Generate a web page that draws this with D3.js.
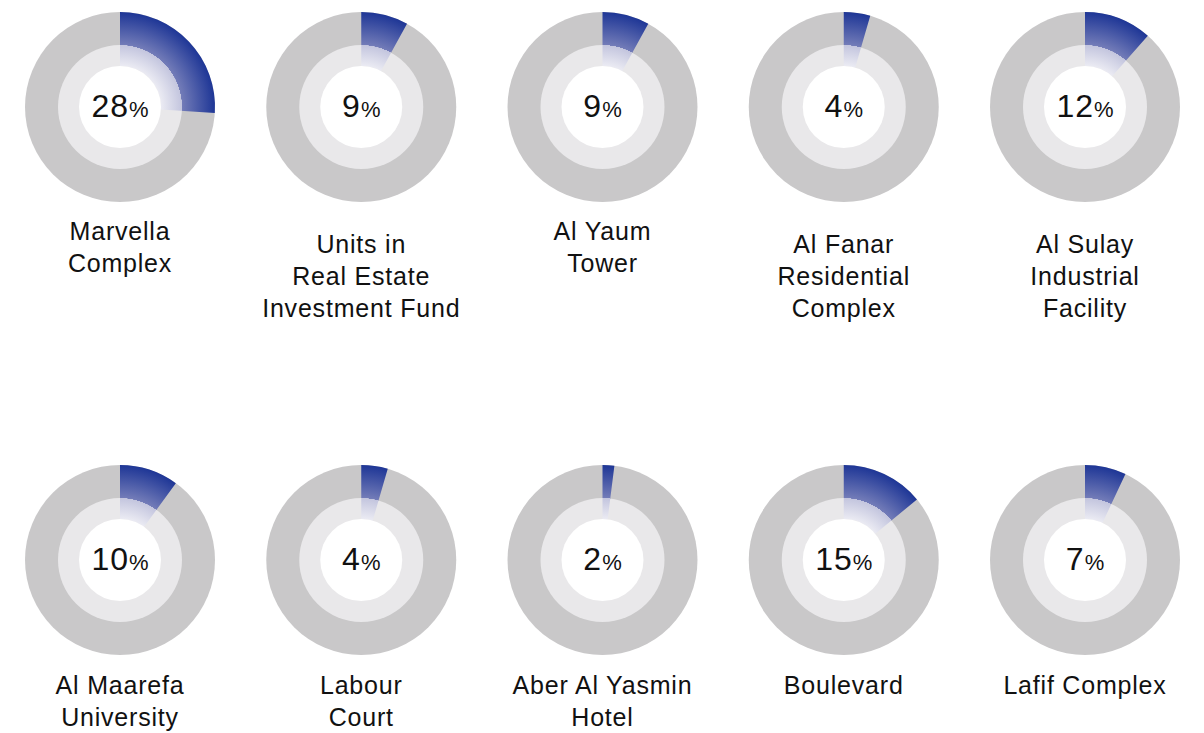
<!DOCTYPE html>
<html>
<head>
<meta charset="utf-8">
<script src="https://cdn.jsdelivr.net/npm/d3@7"></script>
<style>
  body { margin: 0; background: #fff; }
  svg text { font-family: "Liberation Sans", Arial, Helvetica, sans-serif; fill: #111; }
</style>
</head>
<body>
<svg id="chart"></svg>
<script>
// values
const projects = [
  "Marvella\nComplex",
  "Units in\nReal Estate\nInvestment Fund",
  "Al Yaum\nTower",
  "Al Fanar\nResidential\nComplex",
  "Al Sulay\nIndustrial\nFacility",
  "Al Maarefa\nUniversity",
  "Labour\nCourt",
  "Aber Al Yasmin\nHotel",
  "Boulevard",
  "Lafif Complex"
];
// printed percentages
const shares = [28, 9, 9, 4, 12, 10, 4, 2, 15, 7];
const arcShares = [26, 8, 8, 4.5, 11.5, 10, 4.5, 2, 14, 7];

const width = 1204, height = 733;
const perRow = 5;
const R = 95, midR = 62, innerR = 41;
const lineH = 32;

const svg = d3.select('#chart')
  .attr('width', width)
  .attr('height', height);

// gradient for the highlighted wedge: pale towards the centre, dark blue at the rim
const grad = svg.append('defs').append('radialGradient')
  .attr('id', 'wedgeGrad')
  .attr('gradientUnits', 'userSpaceOnUse')
  .attr('cx', 0).attr('cy', 0).attr('r', R);
[[0, '#ffffff'], [innerR / R, '#ebebf3'], [midR / R - 0.001, '#c3c5de'],
 [midR / R, '#737cb8'], [1, '#1e3696']].forEach(s => {
  grad.append('stop').attr('offset', s[0]).attr('stop-color', s[1]);
});

const data = projects.map((p, i) => ({
  name: p, value: shares[i], arc: arcShares[i],
  col: i % perRow, row: Math.floor(i / perRow)
}));

const x = d3.scalePoint().domain(d3.range(perRow)).range([120, 1085]);
const y = d3.scalePoint().domain([0, 1]).range([107, 560]);

const pct = d3.scaleLinear().domain([0, 100]).range([0, 2 * Math.PI]);
const wedge = d3.arc().innerRadius(innerR).outerRadius(R).startAngle(0);

const g = svg.selectAll('.donut')
  .data(data)
  .join('g')
    .attr('class', 'donut')
    .attr('transform', d => `translate(${x(d.col)},${y(d.row)})`);

g.append('circle').attr('r', R).attr('fill', '#c9c8c9');
g.append('circle').attr('r', midR).attr('fill', '#e9e8ea');
g.append('path')
  .attr('d', d => wedge({ endAngle: pct(d.arc) }))
  .attr('fill', 'url(#wedgeGrad)');
g.append('circle').attr('r', innerR).attr('fill', '#ffffff');

const val = g.append('text')
  .attr('text-anchor', 'middle')
  .attr('y', 10);
val.append('tspan').attr('font-size', 32).attr('letter-spacing', 1).text(d => d.value);
val.append('tspan').attr('font-size', 22).text('%');

// labels under each ring; three-line labels sit a bit lower
g.append('text')
  .attr('text-anchor', 'middle')
  .attr('font-size', 25)
  .attr('letter-spacing', 0.8)
  .each(function(d) {
    const lines = d.name.split('\n');
    const y0 = (d.row === 0 ? 133 : 134) + Math.max(0, lines.length - 2) * 13;
    d3.select(this).selectAll('tspan')
      .data(lines)
      .join('tspan')
        .attr('x', 0)
        .attr('y', (l, j) => y0 + j * lineH)
        .text(l => l);
  });
</script>
</body>
</html>
